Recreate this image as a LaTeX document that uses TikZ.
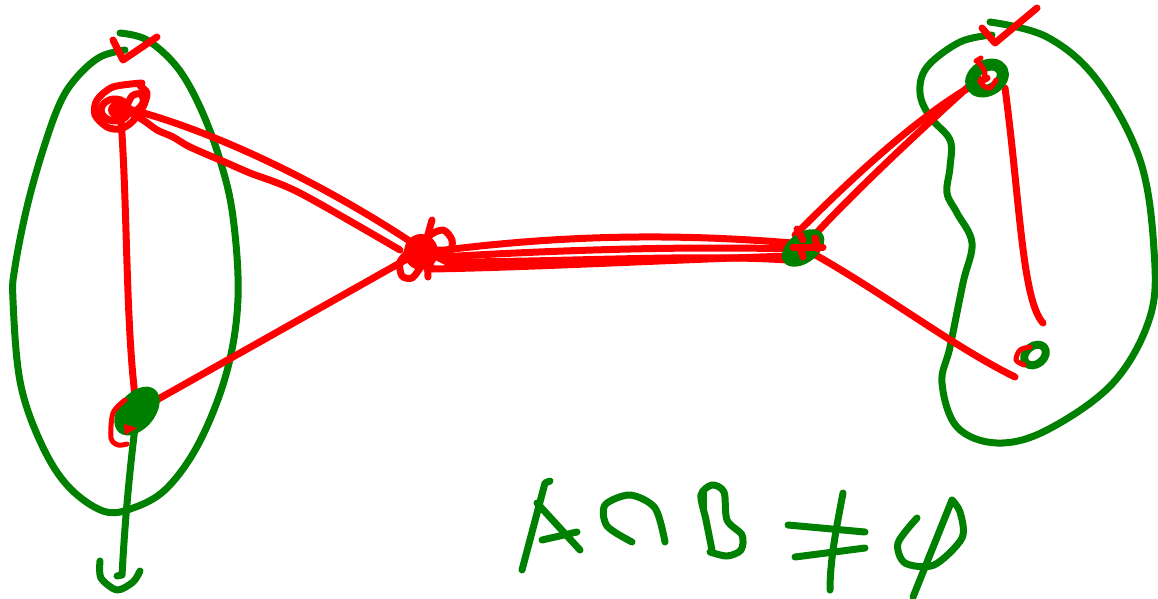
\documentclass[tikz,border=0pt]{standalone}
\definecolor{penred}{RGB}{255,0,0}
\definecolor{pengreen}{RGB}{0,128,0}
\begin{document}
\begin{tikzpicture}[x=1pt,y=-1pt,line cap=round,line join=round,
  redpen/.style={draw=penred,line width=7pt},
  greenpen/.style={draw=pengreen,line width=7pt}]
\useasboundingbox (0,0) rectangle (1158,598);
% vertices
\coordinate (A1) at (120,107);
\coordinate (A2) at (137,411);
\coordinate (M) at (423,250);
\coordinate (N) at (803,248);
\coordinate (B1) at (987,78);
\coordinate (B2) at (1035,355);
\coordinate (E) at (1015,377);
\coordinate (Bend) at (1043,323);
% left set A
\draw[greenpen] plot[smooth,tension=0.6] coordinates {(125,50) (100,57) (77,77) (60,103) (43,150) (27,207) (15,267) (13,300) (20,381) (40,441) (67,485) (103,511) (133,508) (167,488) (200,441) (227,371) (238,298) (233,217) (220,160) (200,107) (177,67) (147,40) (120,33)};
\draw[greenpen] (A2) .. controls (127,490) and (124,540) .. (122,575) -- (117,576);
\draw[greenpen] plot[smooth] coordinates {(100,561) (101,578) (117,590) (133,582) (140,571)};
\draw[redpen] (113,40) -- (123,60) -- (157,37);
% right set B
\draw[greenpen] plot[smooth,tension=0.6] coordinates {(990,22) (1047,37) (1097,80) (1140,160) (1154,250) (1150,317) (1113,383) (1047,430) (997,443) (957,427) (942,383) (950,347) (963,283) (972,243) (957,213) (947,193) (950,167) (950,140) (930,117) (920,93) (927,67) (960,42) (992,35)};
\draw[redpen] (982,28) -- (995,43) -- (1037,8);
% edges
\draw[redpen] (A1) .. controls (128,200) and (125,330) .. (A2);
\draw[redpen] (A1) .. controls (200,125) and (320,180) .. (M);
\draw[redpen] plot[smooth] coordinates {(A1) (143,120) (157,130) (173,137) (190,147) (227,163) (250,173) (300,193) (400,250)};
\draw[redpen] (A2) -- (M);
\draw[redpen] (M) -- (445,250) .. controls (550,237) and (660,232) .. (792,243) -- (N);
\draw[redpen] (M) -- (440,257) .. controls (560,250) and (680,246) .. (797,249);
\draw[redpen] (M) -- (432,269) .. controls (540,267) and (690,259) .. (790,256);
\draw[redpen] (M) -- (447,262) .. controls (560,262) and (700,254) .. (787,260);
\draw[redpen] (795,235) .. controls (830,200) and (920,110) .. (B1);
\draw[redpen] (N) .. controls (840,205) and (920,130) .. (978,78);
\draw[redpen] (N) .. controls (880,290) and (950,345) .. (E);
\draw[redpen] (1005,88) .. controls (1020,200) and (1022,300) .. (Bend);
% vertex marks
\draw[redpen] plot[smooth] coordinates {(142,83) (113,87) (97,100) (95,115) (107,127) (120,129) (132,122) (143,107) (147,93) (140,86)};
\draw[redpen] (115,110) ellipse [x radius=14pt,y radius=11pt];
\draw[redpen] plot[smooth] coordinates {(126,108) (132,96) (141,94) (143,103) (135,112)};
\fill[penred] (118,110) ellipse [x radius=10pt,y radius=9pt];
\fill[pengreen,rotate around={50:(A2)}] (A2) ellipse [x radius=28pt,y radius=18pt];
\draw[redpen,line width=5pt] plot[smooth] coordinates {(125,400) (113,413) (111,438) (118,445) (127,444)};
\fill[penred] (124,424) -- (137,428) -- (125,435) -- cycle;
\fill[penred] (421,252) ellipse [x radius=17pt,y radius=18pt];
\draw[redpen] plot[smooth] coordinates {(418,258) (428,237) (443,230) (452,240) (450,252) (440,258)};
\draw[redpen] (425,245) -- (432,220);
\draw[redpen] plot[smooth] coordinates {(410,250) (400,262) (402,276) (412,278) (420,268)};
\draw[redpen] (427,255) -- (428,277);
\fill[pengreen,rotate around={37:(N)}] (N) ellipse [x radius=24pt,y radius=15pt];
\draw[redpen] (797,229) -- (803,240);
\draw[redpen] (800,247) -- (803,257);
\draw[redpen] (793,247) -- (823,247);
\draw[redpen] (815,238) -- (818,249);
\draw[pengreen,line width=12pt,rotate around={30:(B1)}] (B1) ellipse [x radius=17pt,y radius=12pt];
\draw[redpen,line width=5pt] plot[smooth] coordinates {(978,62) (985,72) (982,84) (990,88) (996,80)};
\draw[redpen,line width=5pt] (976,61) -- (981,58);
\draw[pengreen,line width=8pt,rotate around={40:(B2)}] (B2) ellipse [x radius=12pt,y radius=9pt];
\draw[redpen,line width=5pt] plot[smooth] coordinates {(1030,347) (1020,350) (1016,360) (1024,365)};
% formula
\begin{scope}[greenpen]
\draw (522,570) -- (545,483) -- (550,481);
\draw (537,503) -- (580,550);
\draw (542,540) -- (577,532);
\draw plot[smooth] coordinates {(632,542) (607,526) (605,505) (630,495) (655,508) (665,542)};
\draw plot[smooth] coordinates {(712,550) (706,520) (701,495) (712,485) (724,492) (727,520) (742,535) (741,550) (727,556) (710,552)};
\draw (703,508) -- (703,493);
\draw (788,525) -- (865,532);
\draw (795,557) -- (865,548);
\draw (843,493) .. controls (836,530) and (830,560) .. (830,590);
\draw plot[smooth] coordinates {(917,518) (898,543) (905,563) (934,565) (962,538) (960,512) (952,500)};
\draw (952,500) -- (913,597);
\end{scope}
\end{tikzpicture}
\end{document}
